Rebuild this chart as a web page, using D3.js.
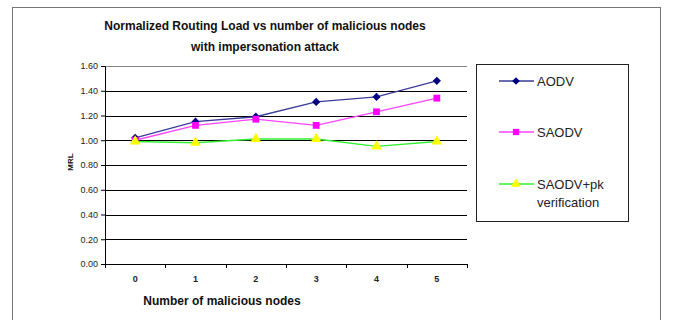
<!DOCTYPE html>
<html lang="en">
<head>
<meta charset="utf-8">
<title>NRL vs malicious nodes</title>
<script type="text/javascript" src="https://cdn.jsdelivr.net/npm/d3@7/dist/d3.min.js"></script>
<style>
body { margin: 0; background: #fff; }
text { font-family: "Liberation Sans", Arial, sans-serif; }
</style>
</head>
<body>
<script type="text/javascript">
var w = 673;
var h = 320;

// data
var nodes = ["0", "1", "2", "3", "4", "5"];
var aodv = [1.02, 1.15, 1.19, 1.31, 1.35, 1.48];
var saodv = [1.00, 1.12, 1.17, 1.12, 1.23, 1.34];
var saodvPk = [0.99, 0.98, 1.01, 1.01, 0.95, 0.99];
var yTicks = [0, 0.2, 0.4, 0.6, 0.8, 1.0, 1.2, 1.4, 1.6];

// excel style diamond = square turned 45deg
var series = [
  {name: ["AODV"], values: aodv, line: "#3b3b9a", fill: "#000080", shape: d3.symbolSquare, size: 34, rot: 45},
  {name: ["SAODV"], values: saodv, line: "#ff44ff", fill: "#ff00ff", shape: d3.symbolSquare, size: 46, rot: 0},
  {name: ["SAODV+pk", "verification"], values: saodvPk, line: "#33ee33", fill: "#ffff00", shape: d3.symbolTriangle, size: 50, rot: 0}
];

// plot area (don't call it "top", that's window.top)
var pLeft = 105, pRight = 467, pTop = 66, pBottom = 264;

var svg = d3.select("body").append("svg")
  .attr("width", w)
  .attr("height", h);

// outer chart border
svg.append("rect")
  .attr("x", 12.5).attr("y", 7.5)
  .attr("width", 648).attr("height", 330)
  .attr("fill", "none").attr("stroke", "#777").attr("stroke-width", 1);

var xScale = d3.scaleBand().domain(nodes).range([pLeft, pRight]);
var yScale = d3.scaleLinear().domain([0, 1.6]).range([pBottom, pTop]);

// gridlines
svg.append("g")
  .selectAll("line")
  .data(yTicks.filter(function(d){ return d > 0; }))
  .enter()
  .append("line")
  .attr("x1", pLeft).attr("x2", pRight)
  .attr("y1", function(d){ return Math.round(yScale(d)) + 0.5; })
  .attr("y2", function(d){ return Math.round(yScale(d)) + 0.5; })
  .attr("stroke", function(d){ return d === 1.6 ? "#888" : "#000"; })
  .attr("stroke-width", 1);

var yAxis = d3.axisLeft(yScale)
  .tickValues(yTicks)
  .tickFormat(d3.format(".2f"))
  .tickSize(4)
  .tickPadding(3);

var yg = svg.append("g")
  .attr("transform", "translate(" + pLeft + ",0)")
  .call(yAxis);
yg.selectAll("text").attr("font-size", "9px").attr("fill", "#222")
  .style("font-family", "'Liberation Sans', Arial, sans-serif");

var xAxis = d3.axisBottom(xScale).tickSize(0).tickPadding(12);
var xg = svg.append("g")
  .attr("transform", "translate(0," + pBottom + ")")
  .call(xAxis);
xg.select(".domain").remove();
xg.selectAll("text").attr("font-size", "9px").attr("font-weight", "bold").attr("fill", "#222")
  .style("font-family", "'Liberation Sans', Arial, sans-serif");
// x axis line and ticks at band edges
svg.append("line")
  .attr("x1", pLeft).attr("x2", pRight)
  .attr("y1", pBottom + 0.5).attr("y2", pBottom + 0.5)
  .attr("stroke", "#000");
svg.append("g")
  .selectAll("line")
  .data(nodes.concat(["end"]))
  .enter()
  .append("line")
  .attr("x1", function(d, i){ return Math.round(pLeft + i * xScale.bandwidth()) + 0.5; })
  .attr("x2", function(d, i){ return Math.round(pLeft + i * xScale.bandwidth()) + 0.5; })
  .attr("y1", pBottom).attr("y2", pBottom + 4)
  .attr("stroke", "#000");

var xc = function(d, i){ return xScale(nodes[i]) + xScale.bandwidth() / 2; };

var line = d3.line()
  .x(xc)
  .y(function(d){ return yScale(d); });

series.forEach(function(s){
  svg.append("path")
    .datum(s.values)
    .attr("d", line)
    .attr("fill", "none")
    .attr("stroke", s.line)
    .attr("stroke-width", 1.3);
});

series.forEach(function(s){
  svg.append("g")
    .selectAll("path")
    .data(s.values)
    .enter()
    .append("path")
    .attr("d", d3.symbol().type(s.shape).size(s.size))
    .attr("transform", function(d, i){ return "translate(" + xc(d, i) + "," + yScale(d) + ") rotate(" + s.rot + ")"; })
    .attr("fill", s.fill);
});

// titles
var title = svg.append("text")
  .attr("x", 265).attr("text-anchor", "middle")
  .attr("font-size", "12px").attr("font-weight", "bold").attr("fill", "#111");
title.append("tspan").attr("x", 265).attr("y", 30).text("Normalized Routing Load  vs number of malicious nodes");
title.append("tspan").attr("x", 265).attr("y", 51).text("with impersonation attack");

svg.append("text")
  .attr("x", 222).attr("y", 305)
  .attr("text-anchor", "middle")
  .attr("font-size", "12px").attr("font-weight", "bold").attr("fill", "#111")
  .text("Number of malicious nodes");

svg.append("text")
  .attr("transform", "translate(73,162) rotate(-90)")
  .attr("text-anchor", "middle")
  .attr("font-size", "8px").attr("font-weight", "bold").attr("fill", "#111")
  .text("MRL");

// legend
var lx = 476, ly = 64;
svg.append("rect")
  .attr("x", lx + 0.5).attr("y", ly + 0.5)
  .attr("width", 152).attr("height", 157)
  .attr("fill", "#fff").attr("stroke", "#222");

var rowY = [81, 132, 184];
series.forEach(function(s, i){
  var g = svg.append("g").attr("transform", "translate(0," + rowY[i] + ")");
  g.append("line").attr("x1", 499).attr("x2", 534).attr("y1", 0).attr("y2", 0)
    .attr("stroke", s.line).attr("stroke-width", 1.3);
  g.append("path")
    .attr("d", d3.symbol().type(s.shape).size(s.size * 0.85))
    .attr("transform", "translate(516,0) rotate(" + s.rot + ")")
    .attr("fill", s.fill);
  s.name.forEach(function(t, j){
    g.append("text")
      .attr("x", 537).attr("y", 5 + j * 18)
      .attr("font-size", "13px").attr("fill", "#222")
      .text(t);
  });
});
</script>
</body>
</html>
